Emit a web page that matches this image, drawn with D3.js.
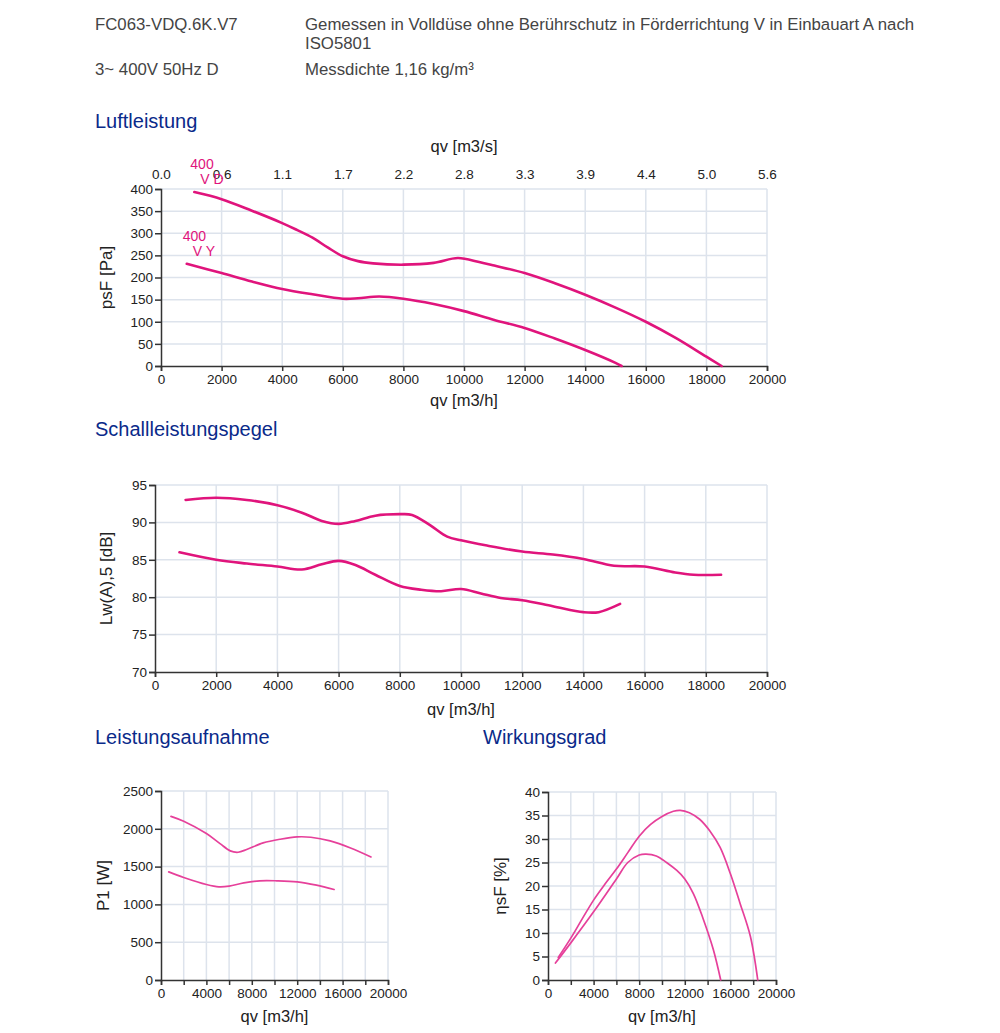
<!DOCTYPE html>
<html>
<head>
<meta charset="utf-8">
<script src="https://cdn.jsdelivr.net/npm/d3@7"></script>
<style>
  body { margin: 0; background: #fff; }
  svg { display: block; font-family: "Liberation Sans", Arial, sans-serif; }
  .tick text { fill: #222; }
  .sect { fill: #0a2a8a; font-size: 20px; }
  .hdr { fill: #444; font-size: 16.8px; }
  .atitle { fill: #222; font-size: 16.5px; }
</style>
</head>
<body>
<script>
// --- data ---
var qvTicks = [0,2000,4000,6000,8000,10000,12000,14000,16000,18000,20000];
var psTicks = [0,50,100,150,200,250,300,350,400];
var lwTicks = [70,75,80,85,90,95];
var p1Ticks = [0,500,1000,1500,2000,2500];
var etaTicks = [0,5,10,15,20,25,30,35,40];

// Luftleistung
var vdPsQv = [1100,2000,3000,4000,4500,5000,5500,6000,6500,7000,8000,9000,9800,10500,11000,12000,13000,14000,15000,16000,17000,18000,18500];
var vdPs   = [393,377,351,323,307,290,268,248,237,232,229,233,244,235,227,210,187,161,132,100,63,21,0];
var vyPsQv = [850,2000,3000,4000,5000,6000,6500,7200,8000,9000,10000,11000,12000,13000,14000,15000,15200];
var vyPs   = [231,210,191,174,162,152,153,157,152,140,124,104,86,62,36,7,0];
var curveNames = [["400","V D"],["400","V Y"]];

// Schallleistungspegel
var vdLwQv = [1000,2000,3000,4000,4800,5450,6000,6550,7200,8000,8400,9000,9550,10000,10850,12000,13000,14000,15000,16000,17000,17600,18500];
var vdLw   = [93.0,93.3,93.0,92.3,91.3,90.2,89.8,90.2,90.9,91.1,91.0,89.6,88.1,87.6,86.9,86.1,85.7,85.1,84.2,84.1,83.3,83.0,83.0];
var vyLwQv = [800,2000,3000,4000,4800,5450,6000,6550,7200,8000,8700,9350,10000,10650,11300,12000,13000,14000,14500,15200];
var vyLw   = [86.0,85.0,84.5,84.1,83.7,84.4,84.85,84.3,83.0,81.5,81.0,80.8,81.1,80.5,79.9,79.6,78.8,78.0,78.0,79.1];

// Leistungsaufnahme
var vdP1Qv = [880,2000,4000,5200,6100,6800,7600,9000,10500,12000,13200,14900,16700,18500];
var vdP1   = [2165,2100,1937,1804,1708,1690,1730,1813,1862,1893,1888,1840,1747,1628];
var vyP1Qv = [680,2000,4000,5100,6000,7300,8700,10200,12000,13700,15250];
var vyP1   = [1430,1356,1263,1232,1241,1285,1312,1312,1298,1254,1197];

// Wirkungsgrad
var vdEtaQv = [900,2000,3000,4000,5000,6000,7000,8000,9000,10000,11000,11600,12400,13300,14200,15100,16000,16850,17750,18400];
var vdEta   = [4.8,8.9,13.0,17.0,20.4,23.6,27.1,30.6,33.1,34.8,35.9,36.1,35.6,34.2,31.7,28.2,22.6,16.3,9.3,0];
var vyEtaQv = [650,2000,4000,6000,7000,8000,8600,9500,10400,11300,12000,12750,13600,14500,15150];
var vyEta   = [3.6,7.9,14.5,21.5,25.0,26.6,26.8,26.4,25.0,23.3,21.5,18.4,13.1,6.5,0];

var svg = d3.select("body").append("svg").attr("width", 1000).attr("height", 1033);
svg.append("rect").attr("width", 1000).attr("height", 1033).attr("fill", "#fff");

// header
svg.append("text").attr("class","hdr").attr("x",95).attr("y",30).text("FC063-VDQ.6K.V7");
svg.append("text").attr("class","hdr").attr("x",305).attr("y",30).text("Gemessen in Volldüse ohne Berührschutz in Förderrichtung V in Einbauart A nach");
svg.append("text").attr("class","hdr").attr("x",305).attr("y",49).text("ISO5801");
svg.append("text").attr("class","hdr").attr("x",95).attr("y",75).text("3~ 400V 50Hz D");
svg.append("text").attr("class","hdr").attr("x",305).attr("y",75).text("Messdichte 1,16 kg/m³");

function pair(xs, ys) { return xs.map(function(d, i) { return [d, ys[i]]; }); }

function chart(o) {
  var x = d3.scaleLinear().domain([0, 20000]).range([o.l, o.r]);
  var y = d3.scaleLinear().domain(o.yDom).range([o.b, o.t]);
  var g = svg.append("g");

  svg.append("text").attr("class","sect").attr("x", o.titleX).attr("y", o.titleY).text(o.title);

  // grid
  g.selectAll(".vg").data(qvTicks.slice(1)).enter().append("line")
    .attr("x1", x).attr("x2", x).attr("y1", o.t).attr("y2", o.b)
    .attr("stroke", "#dde3ec").attr("stroke-width", 1.5);
  g.selectAll(".hg").data(o.yTicks.slice(1)).enter().append("line")
    .attr("x1", o.l).attr("x2", o.r).attr("y1", y).attr("y2", y)
    .attr("stroke", "#dde3ec").attr("stroke-width", 1.5);

  var fs = o.fs || "13.5px";
  var ax = g.append("g").attr("transform", "translate(0," + o.b + ")")
    .call(d3.axisBottom(x).tickValues(qvTicks).tickSizeOuter(0).tickSize(5).tickPadding(3)
      .tickFormat(function(d, i) { return (o.every2 && i % 2) ? "" : String(d); }));
  ax.selectAll("text").style("font-size", fs);
  var ay = g.append("g").attr("transform", "translate(" + o.l + ",0)")
    .call(d3.axisLeft(y).tickValues(o.yTicks).tickSizeOuter(0).tickSize(6).tickPadding(2)
      .tickFormat(function(d) { return String(d); }));
  ay.selectAll("text").style("font-size", fs);
  g.selectAll(".domain, .tick line").attr("stroke", "#333").attr("stroke-width", 1.5);

  if (o.top) {
    var at = g.append("g").attr("transform", "translate(0," + o.t + ")")
      .call(d3.axisTop(x).tickValues(qvTicks).tickSize(0).tickPadding(10)
        .tickFormat(function(d) { return (d / 3600).toFixed(1); }));
    at.select(".domain").remove();
    at.selectAll("text").style("font-size", fs);
    svg.append("text").attr("class","atitle").attr("text-anchor","middle")
      .attr("x", (o.l + o.r) / 2).attr("y", o.t - 37).text("qv [m3/s]");
  }

  svg.append("text").attr("class","atitle").attr("text-anchor","middle")
    .attr("x", (o.l + o.r) / 2).attr("y", o.xtY).text("qv [m3/h]");
  svg.append("text").attr("class","atitle").attr("text-anchor","middle")
    .style("font-size", "17px")
    .attr("transform", "translate(" + o.ytX + "," + (o.t + o.b) / 2 + ") rotate(-90)")
    .text(o.yTitle);

  var line = d3.line().x(function(d) { return x(d[0]); }).y(function(d) { return y(d[1]); })
    .curve(d3.curveCatmullRom.alpha(0.5));
  o.series.forEach(function(s) {
    g.append("path").attr("d", line(s)).attr("fill", "none")
      .attr("stroke", o.color).attr("stroke-width", o.lw).attr("stroke-linecap", "round");
  });

  if (o.names) {
    o.series.forEach(function(s, i) {
      var px = x(s[0][0]), py = y(s[0][1]);
      var t = svg.append("text").attr("fill", "#e0147c").style("font-size", "14px");
      t.append("tspan").attr("x", px - 4).attr("y", py - 23).text(o.names[i][0]);
      t.append("tspan").attr("x", px + 6).attr("y", py - 8).text(o.names[i][1]);
    });
  }
}

chart({ title: "Luftleistung", titleX: 95, titleY: 128, l: 161, r: 767, t: 189, b: 366,
  yDom: [0, 400], yTicks: psTicks, top: true, xtY: 406, ytX: 112, yTitle: "psF [Pa]",
  series: [pair(vdPsQv, vdPs), pair(vyPsQv, vyPs)], names: curveNames,
  color: "#e0147c", lw: 2.6 });

chart({ title: "Schallleistungspegel", titleX: 95, titleY: 436, l: 155, r: 767, t: 485, b: 672,
  yDom: [70, 95], yTicks: lwTicks, xtY: 715, ytX: 112, yTitle: "Lw(A),5 [dB]",
  series: [pair(vdLwQv, vdLw), pair(vyLwQv, vyLw)], color: "#e0147c", lw: 2.6 });

chart({ title: "Leistungsaufnahme", titleX: 95, titleY: 744, l: 161, r: 388, t: 791, b: 980,
  yDom: [0, 2500], yTicks: p1Ticks, every2: true, fs: "13.5px", xtY: 1022, ytX: 109, yTitle: "P1 [W]",
  series: [pair(vdP1Qv, vdP1), pair(vyP1Qv, vyP1)], color: "#e6409a", lw: 1.7 });

chart({ title: "Wirkungsgrad", titleX: 483, titleY: 744, l: 548, r: 776, t: 792, b: 980,
  yDom: [0, 40], yTicks: etaTicks, every2: true, fs: "13.5px", xtY: 1022, ytX: 506, yTitle: "ηsF [%]",
  series: [pair(vdEtaQv, vdEta), pair(vyEtaQv, vyEta)], color: "#e6409a", lw: 1.7 });
</script>
</body>
</html>
